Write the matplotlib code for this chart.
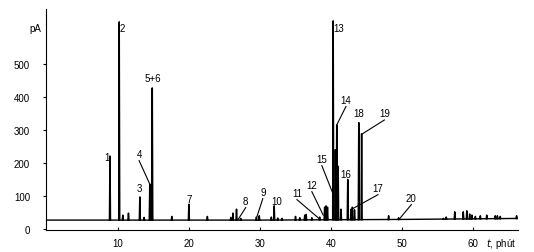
import numpy as np
import matplotlib
matplotlib.use('Agg')
import matplotlib.pyplot as plt

plt.rcParams['font.family'] = ['Liberation Sans', 'DejaVu Sans']

# retention time (min) and height (pA) of every peak in the trace
peak_t = [8.9, 10.2, 10.7, 11.5, 13.1, 13.7, 14.5, 14.85, 17.6, 20.0, 22.6,
          25.9, 26.2, 26.7, 27.3, 29.5, 29.9, 31.6, 32.0, 32.5, 33.1, 35.0, 35.6,
          36.3, 36.5, 37.3, 38.4, 39.1, 39.3, 39.5, 40.3, 40.6, 40.8, 41.0,
          41.4, 42.35, 42.8, 43.0, 43.3, 43.9, 44.3, 48.1, 49.5,
          55.8, 56.2, 57.4, 58.6, 59.1, 59.5, 59.8, 60.3, 61.0, 61.9,
          63.1, 63.4, 63.8, 66.1]
peak_h = [221, 627, 42, 48, 97, 35, 136, 427, 38, 75, 38,
          35, 48, 60, 32, 36, 40, 36, 70, 33, 32, 38, 34,
          42, 44, 34, 36, 66, 70, 66, 630, 240, 315, 190,
          60, 150, 60, 66, 58, 322, 288, 40, 34,
          32, 36, 52, 52, 55, 45, 42, 38, 40, 42,
          40, 40, 38, 40]

# baseline drift
base_t = [0.0, 30.0, 50.0, 66.3]
base_y = [27, 27, 29, 32]

# labels: text, text position (t, pA), peak end of the leader line or None
labels = ['1', '2', '3', '4', '5+6', '7', '8', '9', '10', '11',
          '12', '13', '14', '15', '16', '17', '18', '19', '20']
label_pos = [(8.45, 218), (10.6, 609), (13.1, 124), (13.0, 227), (14.9, 458),
             (20.0, 91), (28.0, 85), (30.4, 112), (32.4, 85), (35.2, 109),
             (37.3, 133), (41.1, 609), (42.1, 391), (38.7, 212), (42.1, 167),
             (46.6, 124), (43.9, 350), (47.5, 350), (51.3, 94)]
leader_end = [None, None, None, (14.5, 136), None,
              None, (26.9, 28), (29.4, 26), None, (38.3, 32),
              (38.9, 42), None, (40.8, 315), (40.4, 100), None,
              (43.0, 61), None, (44.4, 288), (49.6, 30)]

fig = plt.figure(figsize=(5.34, 2.53), dpi=100)
ax = fig.add_axes([46 / 534, 1 - 231 / 253, 472 / 534, 221 / 253])

ax.plot(base_t, base_y, color='black', lw=1.0)
w = 0.07
for t, h in zip(peak_t, peak_h):
    b = np.interp(t, base_t, base_y)
    ax.plot([t - w, t, t + w], [b, h, b], color='black', lw=1.1)

for txt, (lx, ly), end in zip(labels, label_pos, leader_end):
    ax.text(lx, ly, txt, fontsize=7, ha='center', va='center')
    if end is not None:
        ax.plot([lx, end[0]], [ly - 20, end[1]], color='black', lw=0.8)

ax.set_xlim(-0.1, 66.3)
ax.set_ylim(-3, 666)
ax.spines['top'].set_visible(False)
ax.spines['right'].set_visible(False)
ax.set_xticks([10, 20, 30, 40, 50, 60])
ax.set_yticks([0, 100, 200, 300, 400, 500])
ax.tick_params(axis='both', labelsize=7, length=2.5, width=0.8)
ax.tick_params(axis='x', direction='in', pad=6)
ax.tick_params(axis='y', pad=9)

ax.text(-0.022, 609, 'pA', fontsize=7, ha='center', va='center',
        transform=ax.get_yaxis_transform())
ax.text(66.0, -42, r'$t$, phút', fontsize=7, ha='right', va='center',
        clip_on=False)

fig.savefig('out.png', dpi=100)
